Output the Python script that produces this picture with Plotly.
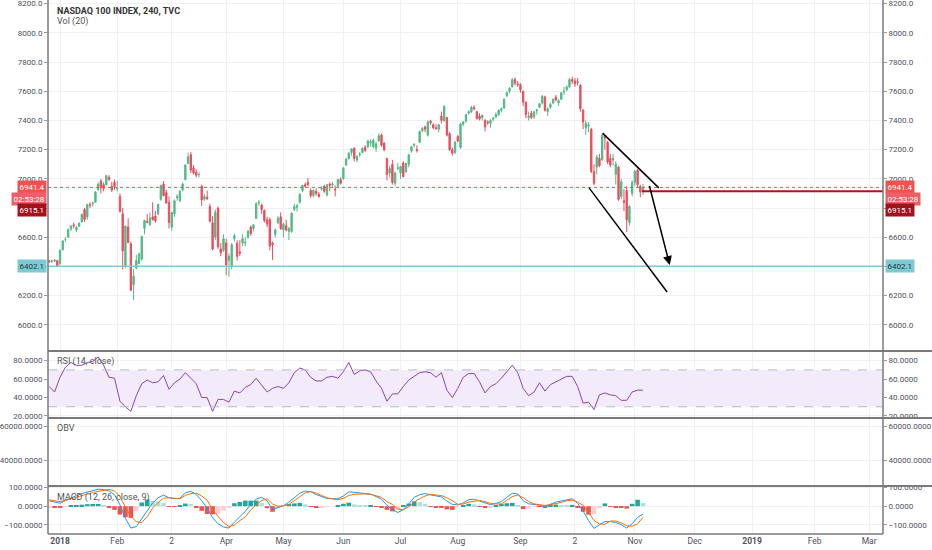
import pandas as pd
import plotly.graph_objects as go

# ================= data =================

holidays = ['2017-12-25', '2018-01-01', '2018-01-15', '2018-02-19', '2018-03-30',
            '2018-05-28', '2018-07-04', '2018-09-03']
trade_days = [d.strftime('%Y-%m-%d 12:00') for d in pd.bdate_range('2017-12-26', '2018-11-06')
              if d.strftime('%Y-%m-%d') not in holidays]

opens = [
    6440, 6432, 6442, 6440,
    6420, 6515, 6585, 6600, 6655, 6685, 6650, 6675, 6705, 6790, 6740, 6825, 6830, 6840, 6925, 6985, 6960, 6960, 7010, 6950, 6975,
    6930, 6880, 6760, 6400, 6670, 6555, 6275, 6390, 6420, 6450, 6660, 6710, 6685, 6740, 6745, 6760, 6860, 6965, 6905,
    6840, 6670, 6760, 6870, 6850, 6925, 6995, 7105, 7165, 7075, 7045, 7030, 6950, 6860, 6875, 6810, 6700, 6600, 6800, 6520, 6510,
    6560, 6440, 6400, 6590, 6560, 6500, 6560, 6560, 6600, 6670, 6660, 6730, 6835, 6820, 6785, 6720, 6720, 6560, 6620, 6700, 6740,
    6650, 6680, 6640, 6640, 6790, 6805, 6840, 6920, 6960, 6975, 6920, 6885, 6915, 6895, 6930, 6950, 6890, 6965, 6960, 6930, 6950, 6995,
    7000, 7095, 7140, 7180, 7210, 7130, 7165, 7180, 7215, 7220, 7245, 7220, 7210, 7260, 7300, 7245, 7140, 7040, 7100, 6970, 7070,
    7040, 7110, 7050, 7100, 7190, 7230, 7200, 7250, 7330, 7355, 7300, 7395, 7370, 7350, 7340, 7430, 7400, 7420, 7310, 7200, 7180,
    7290, 7215, 7375, 7395, 7450, 7460, 7490, 7460, 7430, 7420, 7400, 7390, 7380, 7410, 7425, 7440, 7470, 7485, 7570, 7600, 7630, 7680, 7650,
    7645, 7600, 7525, 7420, 7450, 7425, 7465, 7490, 7520, 7560, 7460, 7490, 7520, 7560, 7520, 7545, 7595, 7610, 7630,
    7680, 7670, 7665, 7640, 7470, 7350, 7360, 7340, 7050, 7080, 7140, 7130, 7290, 7250, 7140, 7130, 7030, 7080, 6880, 6850, 6920, 6700, 6900,
    6975, 7060, 6950, 6910,
]
highs = [
    6446, 6448, 6450, 6444,
    6515, 6580, 6600, 6660, 6685, 6700, 6675, 6700, 6760, 6800, 6830, 6840, 6845, 6915, 6975, 7000, 6975, 7025, 7025, 6980, 6995,
    6985, 6900, 6800, 6680, 6730, 6570, 6380, 6480, 6495, 6610, 6720, 6760, 6770, 6840, 6780, 6828, 6960, 6985, 6925,
    6880, 6775, 6860, 6895, 6925, 6975, 7100, 7180, 7185, 7095, 7065, 7050, 6960, 6895, 6920, 6830, 6745, 6790, 6810, 6560, 6620,
    6590, 6490, 6560, 6625, 6580, 6580, 6620, 6600, 6650, 6680, 6690, 6840, 6855, 6830, 6790, 6740, 6735, 6570, 6660, 6745, 6770,
    6700, 6720, 6670, 6770, 6830, 6830, 6900, 6960, 6975, 7005, 6935, 6930, 6935, 6910, 6950, 6960, 6965, 6975, 6980, 6955, 7000, 7010,
    7080, 7145, 7185, 7210, 7215, 7160, 7185, 7215, 7230, 7265, 7270, 7275, 7255, 7310, 7310, 7250, 7145, 7090, 7130, 7050, 7110,
    7090, 7120, 7110, 7170, 7225, 7245, 7230, 7330, 7355, 7365, 7400, 7405, 7380, 7375, 7375, 7460, 7505, 7425, 7320, 7215, 7260,
    7300, 7385, 7395, 7445, 7470, 7500, 7505, 7465, 7450, 7440, 7410, 7400, 7410, 7425, 7455, 7475, 7490, 7550, 7600, 7630, 7690, 7695, 7670,
    7655, 7605, 7530, 7460, 7465, 7465, 7480, 7520, 7575, 7570, 7490, 7520, 7550, 7575, 7545, 7595, 7630, 7640, 7690,
    7700, 7690, 7690, 7650, 7480, 7400, 7390, 7350, 7100, 7165, 7170, 7310, 7300, 7260, 7170, 7170, 7120, 7090, 7000, 6930, 6950, 6820, 6990,
    7060, 7070, 6960, 6965,
]
lows = [
    6425, 6425, 6432, 6395,
    6410, 6510, 6570, 6595, 6645, 6660, 6635, 6670, 6700, 6705, 6720, 6800, 6810, 6835, 6920, 6900, 6915, 6955, 6985, 6910, 6925,
    6915, 6770, 6380, 6390, 6560, 6230, 6170, 6380, 6415, 6440, 6620, 6695, 6680, 6715, 6700, 6750, 6850, 6880, 6830,
    6660, 6645, 6740, 6850, 6840, 6915, 6990, 7100, 7040, 7030, 7010, 7010, 6815, 6850, 6855, 6700, 6510, 6580, 6520, 6470, 6500,
    6340, 6330, 6380, 6570, 6440, 6470, 6540, 6540, 6590, 6610, 6640, 6725, 6815, 6760, 6700, 6670, 6510, 6445, 6600, 6690, 6650,
    6600, 6640, 6580, 6630, 6780, 6775, 6830, 6910, 6935, 6950, 6870, 6875, 6885, 6870, 6920, 6905, 6880, 6915, 6945, 6880, 6945, 6960,
    6995, 7090, 7130, 7160, 7120, 7115, 7150, 7175, 7185, 7210, 7220, 7210, 7185, 7255, 7220, 7190, 6990, 7010, 6960, 6950, 7060,
    7000, 7010, 7040, 7080, 7180, 7215, 7180, 7245, 7320, 7320, 7290, 7370, 7340, 7335, 7320, 7380, 7390, 7290, 7190, 7160, 7170,
    7250, 7205, 7360, 7385, 7440, 7450, 7470, 7405, 7400, 7400, 7325, 7370, 7350, 7395, 7415, 7430, 7455, 7480, 7560, 7585, 7625, 7640, 7630,
    7590, 7500, 7415, 7400, 7410, 7410, 7440, 7485, 7510, 7460, 7430, 7480, 7510, 7530, 7500, 7540, 7575, 7600, 7620,
    7650, 7630, 7640, 7460, 7340, 7300, 7320, 7040, 6955, 7030, 7080, 7125, 7200, 7100, 7080, 7090, 6960, 6850, 6860, 6780, 6636, 6680, 6880,
    6950, 6940, 6875, 6890,
]
closes = [
    6432, 6437, 6441, 6402,
    6512, 6575, 6585, 6653, 6677, 6678, 6668, 6697, 6758, 6722, 6823, 6820, 6834, 6910, 6964, 6939, 6934, 7022, 6997, 6923, 6949,
    6935, 6777, 6507, 6677, 6564, 6238, 6333, 6441, 6485, 6606, 6715, 6702, 6731, 6720, 6712, 6826, 6955, 6885, 6835,
    6700, 6770, 6850, 6880, 6915, 6965, 7095, 7150, 7060, 7040, 7025, 7030, 6855, 6880, 6865, 6710, 6520, 6770, 6535, 6495, 6590,
    6410, 6470, 6550, 6610, 6470, 6490, 6590, 6565, 6640, 6625, 6685, 6830, 6840, 6790, 6715, 6690, 6540, 6550, 6650, 6730, 6660,
    6690, 6650, 6660, 6765, 6810, 6815, 6895, 6955, 6950, 6960, 6885, 6920, 6900, 6880, 6935, 6915, 6960, 6955, 6965, 6925, 6995, 6970,
    7075, 7135, 7175, 7205, 7140, 7155, 7170, 7210, 7195, 7260, 7255, 7265, 7240, 7295, 7230, 7200, 7030, 7070, 6975, 7040, 7075,
    7085, 7015, 7105, 7165, 7220, 7235, 7195, 7325, 7345, 7340, 7390, 7385, 7350, 7345, 7370, 7400, 7495, 7300, 7200, 7175, 7250,
    7260, 7375, 7390, 7440, 7460, 7490, 7480, 7415, 7410, 7435, 7355, 7385, 7400, 7415, 7440, 7470, 7480, 7545, 7590, 7620, 7680, 7655, 7645,
    7610, 7525, 7440, 7430, 7420, 7460, 7470, 7515, 7565, 7470, 7480, 7510, 7545, 7540, 7535, 7590, 7600, 7630, 7680,
    7670, 7650, 7660, 7480, 7390, 7380, 7370, 7050, 6970, 7150, 7090, 7300, 7280, 7115, 7095, 7140, 7100, 6860, 6980, 6840, 6720, 6810, 6975,
    7050, 6960, 6910, 6941.4,
]

# indicators, read every second bar
rsi = [52, 46, 62, 73, 78, 75, 75, 78, 79, 84, 75, 62, 61, 36, 30, 25, 42, 55, 59, 56,
       57, 64, 49, 56, 60, 67, 61, 55, 40, 40, 25, 38, 38, 35, 47, 45, 51, 54, 61, 54,
       46, 50, 52, 50, 56, 67, 72, 70, 62, 58, 58, 62, 63, 61, 68, 78, 65, 69, 70, 68,
       58, 50, 36, 44, 44, 52, 59, 63, 67, 68, 67, 62, 67, 48, 40, 50, 62, 66, 66, 57,
       45, 52, 55, 61, 68, 75, 67, 50, 42, 46, 56, 47, 54, 57, 60, 63, 63, 52, 34, 35,
       27, 43, 45, 43, 42, 37, 37, 46, 48, 48]
macd = [29, 22, 16, 30, 45, 57, 68, 77, 86, 92, 90, 82, 62, 7, -65, -118, -110, -68, -20, 18,
        45, 60, 45, 40, 43, 72, 80, 63, 30, -10, -62, -95, -112, -118, -86, -55, -28, 10, 38, 48,
        29, -18, -10, 2, 22, 45, 70, 82, 78, 63, 52, 42, 40, 40, 55, 77, 75, 70, 68, 66,
        52, 38, 5, -18, -34, -18, 12, 48, 62, 68, 61, 56, 50, 28, 10, 7, 18, 35, 38, 28,
        18, 8, 15, 25, 48, 70, 66, 30, 13, 11, 5, -1, 10, 22, 28, 34, 40, 15, -25, -78,
        -120, -100, -83, -83, -88, -100, -118, -95, -60, -43]
signal = [34, 30, 25, 32, 41, 51, 60, 66, 74, 80, 87, 90, 82, 52, -5, -55, -84, -88, -56, -10,
          20, 43, 46, 44, 40, 58, 68, 70, 55, 32, -18, -55, -88, -110, -102, -78, -58, -20, 8, 30,
          40, 12, 0, 2, 10, 30, 52, 72, 79, 71, 58, 45, 40, 35, 42, 58, 65, 67, 66, 64,
          56, 48, 25, 10, -15, -20, -2, 22, 40, 55, 64, 61, 57, 45, 30, 10, 12, 22, 28, 31,
          25, 15, 12, 12, 32, 52, 60, 46, 25, 12, 8, 4, 8, 13, 21, 29, 33, 22, 5, -32,
          -78, -95, -98, -80, -80, -90, -105, -108, -95, -60]
hist = [-5, -8, -9, -2, 4, 6, 8, 11, 12, 12, 3, -8, -20, -45, -60, -63, -26, 20, 36, 28,
        25, 17, -1, -4, 3, 14, 12, -7, -25, -42, -44, -40, -24, -8, 16, 23, 30, 30, 30, 18,
        -11, -30, -10, 0, 12, 15, 18, 10, -1, -8, -6, -3, 0, 5, 13, 19, 10, 3, 2, 2,
        -4, -10, -20, -28, -19, 2, 14, 26, 22, 13, -3, -5, -7, -17, -20, -3, 6, 13, 10, -3,
        -7, -7, 3, 13, 16, 18, 6, -16, -12, -1, -3, -5, 2, 9, 7, 5, 7, -7, -30, -46,
        -42, -5, 15, -3, -8, -10, -13, 13, 35, 17]

tick_dates = ['2018-01-02 12:00', '2018-02-01 12:00', '2018-03-02 12:00', '2018-04-02 12:00',
              '2018-05-01 12:00', '2018-06-01 12:00', '2018-07-02 12:00', '2018-08-01 12:00',
              '2018-09-04 12:00', '2018-10-02 12:00', '2018-11-01 12:00', '2018-12-03 12:00',
              '2019-01-01 12:00', '2019-02-01 12:00', '2019-03-01 12:00']
tick_text = ['<b>2018</b>', 'Feb', '2', 'Apr', 'May', 'Jun', 'Jul', 'Aug', 'Sep', '2', 'Nov',
             'Dec', '<b>2019</b>', 'Feb', 'Mar']

last_price = 6941.4
prev_close = 6915.1
support = 6402.1
# hand-drawn wedge: (start date, start price, end date, end price)
wedge_top = ('2018-10-16 16:00', 7313, '2018-11-14 07:00', 6938)
wedge_bottom = ('2018-10-09 17:00', 6938, '2018-11-19 08:00', 6225)
arrow = ('2018-11-08 17:00', 6961, '2018-11-20 07:00', 6410)
ray_start = '2018-11-06 02:00'

# ================= figure =================

UP, DOWN = '#53b987', '#eb4d5c'
GRID = '#eef0f4'
TXT = '#4c525e'
FONT = 'Roboto'
x_range = ['2017-12-26 02:00', '2019-03-08 14:00']

fig = go.Figure()

fig.add_trace(go.Candlestick(
    x=trade_days, open=opens, high=highs, low=lows, close=closes,
    increasing=dict(line=dict(color=UP, width=1), fillcolor=UP),
    decreasing=dict(line=dict(color=DOWN, width=1), fillcolor=DOWN),
    whiskerwidth=0, xaxis='x', yaxis='y', hoverinfo='skip'))

half = trade_days[::2]
fig.add_trace(go.Scatter(x=half, y=rsi, mode='lines', line=dict(color='#8e44ad', width=1),
                         xaxis='x', yaxis='y2'))

bar_colors = []
for i, h in enumerate(hist):
    prev = hist[i - 1] if i else h
    if h >= 0:
        bar_colors.append('#26a69a' if h >= prev else '#b2dfdb')
    else:
        bar_colors.append('#ef5350' if h < prev else '#ffcdd2')
fig.add_trace(go.Bar(x=half, y=hist, marker_color=bar_colors, marker_line_width=0,
                     xaxis='x', yaxis='y4'))
fig.add_trace(go.Scatter(x=half, y=macd, mode='lines', line=dict(color='#2196f3', width=1),
                         xaxis='x', yaxis='y4'))
fig.add_trace(go.Scatter(x=half, y=signal, mode='lines', line=dict(color='#ff6d00', width=1),
                         xaxis='x', yaxis='y4'))

# empty OBV pane and the right-hand price scales need a trace each
for ax, val in [('y3', 50000), ('y5', 7000), ('y6', 50), ('y7', 50000), ('y8', 0)]:
    fig.add_trace(go.Scatter(x=[trade_days[0]], y=[val], mode='markers',
                             marker=dict(opacity=0), xaxis='x', yaxis=ax, hoverinfo='skip'))

panels = {
    'main': dict(domain=[0.3446, 1.0], range=[5828, 8225], tickvals=list(range(6000, 8201, 200)), fmt='.1f'),
    'rsi': dict(domain=[0.2172, 0.3427], range=[17.8, 90.5], tickvals=[20, 40, 60, 80], fmt='.4f'),
    'obv': dict(domain=[0.0899, 0.2172], range=[25100, 65100], tickvals=[40000, 60000], fmt='.4f'),
    'macd': dict(domain=[0.0, 0.0899], range=[-150, 109], tickvals=[-100, 0, 100], fmt='.4f'),
}
tickfont = dict(family=FONT, size=8, color=TXT)
layout_axes = {}
for n, (key, p) in enumerate(panels.items(), start=1):
    name = 'yaxis' if n == 1 else f'yaxis{n}'
    common = dict(range=p['range'], tickvals=p['tickvals'], tickformat=p['fmt'], anchor='x',
                  zeroline=False, ticks='outside', ticklen=3, tickcolor='#999',
                  tickfont=tickfont, automargin=False, fixedrange=True,
                  ticklabeloverflow='allow')
    layout_axes[name] = dict(domain=p['domain'], side='left', showgrid=True, gridcolor=GRID, **common)
    ov = 'y' if n == 1 else f'y{n}'
    layout_axes[f'yaxis{n + 4}'] = dict(overlaying=ov, side='right', showgrid=False, **common)

fig.update_layout(
    width=932, height=550, margin=dict(l=48, r=49, t=0, b=16),
    paper_bgcolor='white', plot_bgcolor='white', showlegend=False, bargap=0.15,
    xaxis=dict(domain=[0, 1], anchor='y4', range=x_range, rangeslider=dict(visible=False),
               rangebreaks=[dict(bounds=['sat', 'mon']), dict(values=holidays)],
               tickvals=tick_dates, ticktext=tick_text, showgrid=True, gridcolor=GRID,
               ticks='', tickfont=dict(family=FONT, size=8.5, color=TXT), showline=False,
               automargin=False, ticklabeloverflow='allow'),
    **layout_axes,
)

shapes = []
# rsi band
shapes.append(dict(type='rect', xref='x', yref='y2', x0=x_range[0], x1=x_range[1], y0=30, y1=70,
                   fillcolor='rgba(155, 89, 220, 0.12)', line_width=0, layer='below'))
for lvl in (30, 70):
    shapes.append(dict(type='line', xref='paper', yref='y2', x0=0, x1=1, y0=lvl, y1=lvl,
                       line=dict(color='#b8b8c8', width=1, dash='dash')))
# price lines
shapes.append(dict(type='line', xref='paper', yref='y', x0=0, x1=1, y0=support, y1=support,
                   line=dict(color='#7fc9d3', width=1.5)))
shapes.append(dict(type='line', xref='paper', yref='y', x0=0, x1=1, y0=last_price, y1=last_price,
                   line=dict(color='#ef5350', width=1, dash='dot')))
shapes.append(dict(type='line', xref='x', yref='y', x0=ray_start, x1=x_range[1],
                   y0=prev_close, y1=prev_close, line=dict(color='#a8161e', width=2)))
for seg in (wedge_top, wedge_bottom):
    shapes.append(dict(type='line', xref='x', yref='y', x0=seg[0], y0=seg[1], x1=seg[2], y1=seg[3],
                       line=dict(color='black', width=1.5)))
# panel frames
for yp in (0.3427, 0.2172, 0.0899):
    shapes.append(dict(type='line', xref='paper', yref='paper', x0=0, x1=1.06, y0=yp, y1=yp,
                       line=dict(color='#7a7a7a', width=2)))
for xp in (0, 1):
    shapes.append(dict(type='line', xref='paper', yref='paper', x0=xp, x1=xp, y0=0, y1=1,
                       line=dict(color='#7a7a7a', width=1.5)))
shapes.append(dict(type='line', xref='paper', yref='paper', x0=0, x1=1, y0=0, y1=0,
                   line=dict(color='#7a7a7a', width=1.5)))
fig.update_layout(shapes=shapes)

fig.add_annotation(x=arrow[2], y=arrow[3], ax=arrow[0], ay=arrow[1], xref='x', yref='y',
                   axref='x', ayref='y', text='', showarrow=True, arrowhead=2, arrowsize=1.2,
                   arrowwidth=1.5, arrowcolor='black')

# panel captions
caps = [(1 - 11 / 534, '<b>NASDAQ 100 INDEX, 240, TVC</b>', '#333333', 9),
        (1 - 22 / 534, 'Vol (20)', '#555555', 9),
        (1 - 361 / 534, 'RSI (14, close)', '#555555', 9),
        (1 - 428 / 534, 'OBV', '#555555', 9),
        (1 - 497 / 534, 'MACD (12, 26, close, 9)', '#555555', 9)]
for yp, txt, col, sz in caps:
    fig.add_annotation(x=0.0085, y=yp, xref='paper', yref='paper', text=txt, showarrow=False,
                       xanchor='left', yanchor='middle', font=dict(family=FONT, size=sz, color=col))

# price labels on both scales
tags = [(last_price, f'{last_price:.1f}', '#ef5350'),
        (6861, '02:53:28', '#ef5f6a'),
        (6786, f'{prev_close:.1f}', '#a3121c'),
        (support, f'{support:.1f}', '#7fc9d3')]
for yv, txt, bg in tags:
    for xp, anc in ((0, 'right'), (1, 'left')):
        fig.add_annotation(x=xp, y=yv, xref='paper', yref='y', text=txt, showarrow=False,
                           xanchor=anc, yanchor='middle', bgcolor=bg, borderpad=1.5,
                           xshift=-1 if anc == 'right' else 2,
                           font=dict(family=FONT, size=8,
                                     color='#1c3a40' if bg == '#7fc9d3' else 'white'))

# the page is photographed from its top-left corner, so drop the default body margin
fig.write_html('out.html', config={'displayModeBar': False},
               post_script="document.body.style.margin='0px';")
